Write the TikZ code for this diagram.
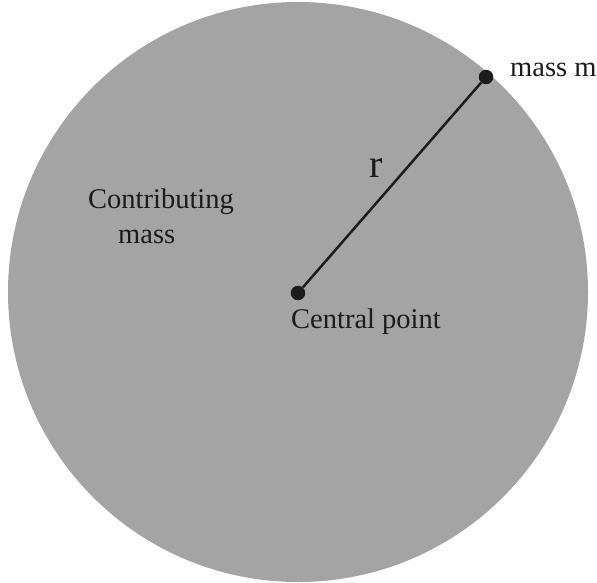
\documentclass[tikz,border=0pt]{standalone}
\usepackage{fontspec}
\setmainfont{Liberation Serif}
\definecolor{massgray}{RGB}{164,164,164}
\definecolor{inkdark}{RGB}{28,28,28}
\begin{document}
\begin{tikzpicture}[x=1pt,y=-1pt,
  lbl/.style={font=\fontsize{28.5}{34}\selectfont, text=inkdark, inner sep=0pt, anchor=base west},
  pt/.style={circle, fill=inkdark, minimum size=14.5pt, inner sep=0pt},
  radius line/.style={draw=inkdark, line width=2.5pt}]
\useasboundingbox (0,0) rectangle (597,583);
\fill[massgray] (298,292) circle (290);
\node[pt] (c) at (298,293) {};
\node[pt] (m) at (486,77) {};
\draw[radius line] (c) -- (m);
\node[lbl] (ml) at (510,77) {mass m};
\node[lbl] (cl) at (291,328) {Central point};
\node[lbl] (t1) at (88,208) {Contributing};
\node[lbl] (t2) at (118,243) {mass};
\node[font=\fontsize{40}{44}\selectfont, text=inkdark, inner sep=0pt, anchor=base west] (r) at (369,178) {r};
\end{tikzpicture}
\end{document}
